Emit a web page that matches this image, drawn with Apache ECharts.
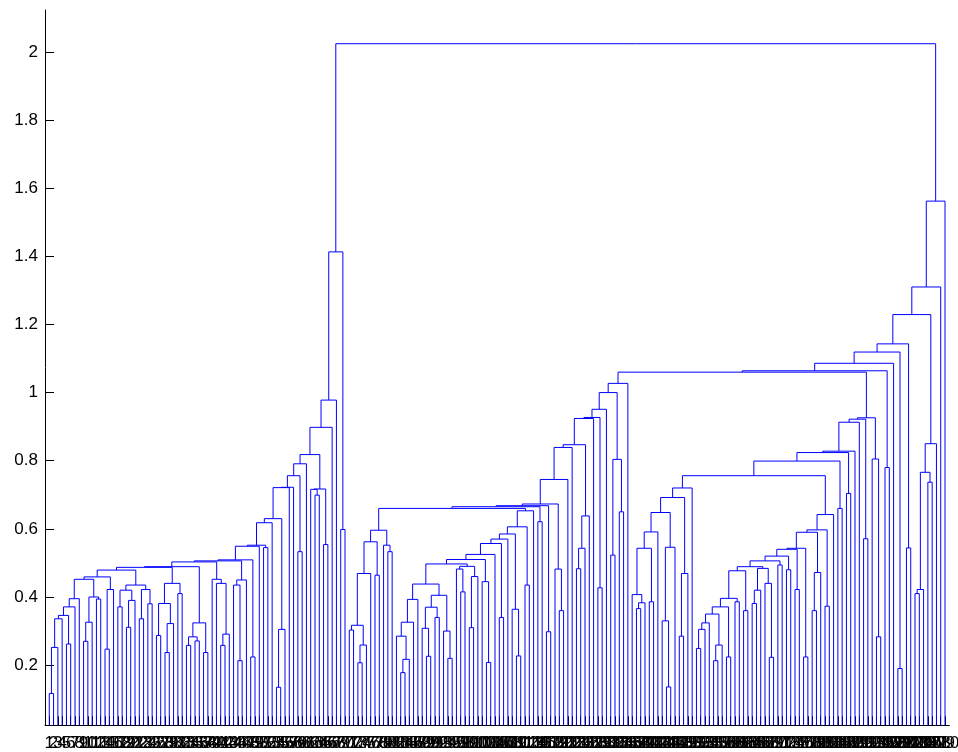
<!DOCTYPE html>
<html><head><meta charset="utf-8">
<script src="https://cdn.jsdelivr.net/npm/echarts@6/dist/echarts.min.js"></script>
<style>html,body{margin:0;padding:0;background:#fff}#c{width:958px;height:752px}</style>
</head><body><div id="c"></div>
<script>
// ---- axis data ----
const yMin = 0.0234, yMax = 2.123;
const yTicks = [0.2, 0.4, 0.6, 0.8, 1, 1.2, 1.4, 1.6, 1.8, 2];

// ---- tree data: [height, left, right], 0 = leaf ----
// left cluster (leaves 1-70)
const a1 = [0.336, [0.252, [0.117, 0, 0], 0], 0];
const a2 = [0.346, a1, [0.262, 0, 0]];
const a3 = [0.371, a2, 0];
const f8 = [0.395, a3, 0];
const n9 = [0.400, [0.326, [0.270, 0, 0], 0], [0.394, 0, 0]];
const g13 = [0.452, f8, n9];
const n14 = [0.422, [0.247, 0, 0], 0];
const h16 = [0.459, g13, n14];
const b17 = [0.435, [0.420, [0.371, 0, 0], [0.390, [0.311, 0, 0], 0]], [0.422, [0.336, 0, 0], [0.380, 0, 0]]];
const i25 = [0.479, h16, b17];
const c26 = [0.440, [0.381, [0.287, 0, 0], [0.322, [0.237, 0, 0], 0]], [0.410, 0, 0]];
const j32 = [0.487, i25, c26];
const k38 = [0.489, j32, [0.324, [0.283, [0.258, 0, 0], [0.271, 0, 0]], [0.237, 0, 0]]];
const x43 = [0.452, 0, [0.440, 0, [0.291, [0.258, 0, 0], 0]]];
const s1 = [0.503, k38, x43];
const y47 = [0.450, [0.435, 0, [0.213, 0, 0]], 0];
const s2 = [0.506, s1, y47];
const v49 = [0.509, s2, [0.224, 0, 0]];
const w52 = [0.552, [0.549, v49, 0], [0.545, 0, 0]];
const y53 = [0.618, w52, 0];
const y56 = [0.630, y53, [0.305, [0.135, 0, 0], 0]];
const n57 = [0.721, y56, 0];
const n58 = [0.722, n57, 0];
const p60 = [0.756, n58, [0.533, 0, 0]];
const p61 = [0.791, p60, 0];
const q66 = [0.717, [0.716, 0, [0.699, 0, 0]], [0.554, 0, 0]];
const r66 = [0.818, p61, q66];
const s67 = [0.898, r66, 0];
const t68 = [0.978, s67, 0];
const clusterL = [1.413, t68, [0.598, 0, 0]];

// middle-left cluster (leaves 71-136)
const q2 = [0.596, [0.562, [0.469, [0.317, [0.303, 0, 0], [0.259, [0.207, 0, 0], 0]], 0], [0.464, 0, 0]], [0.552, 0, [0.533, 0, 0]]];
const m1 = [0.326, [0.285, 0, [0.217, [0.178, 0, 0], 0]], 0];
const m1b = [0.393, m1, 0];
const m2 = [0.370, [0.308, 0, [0.226, 0, 0]], [0.340, 0, 0]];
const m2b = [0.405, m2, [0.300, 0, [0.220, 0, 0]]];
const m3 = [0.438, m1b, m2b];
const m4 = [0.482, 0, [0.415, 0, 0]];
const m5 = [0.460, [0.310, 0, 0], 0];
const m6 = [0.490, m4, m5];
const m7 = [0.497, m3, m6];
const xa = [0.510, m7, [0.445, 0, [0.208, 0, 0]]];
const m8 = [0.525, xa, 0];
const m9 = [0.557, m8, [0.340, 0, 0]];
const m10 = [0.570, m9, 0];
const m11 = [0.585, m10, [0.364, 0, [0.227, 0, 0]]];
const m12 = [0.606, m11, [0.435, 0, 0]];
const q3 = [0.653, m12, 0];
const n660 = [0.660, q2, q3];
const n665 = [0.665, n660, [0.621, 0, 0]];
const n668 = [0.668, n665, [0.298, 0, 0]];
const n673 = [0.673, n668, [0.482, 0, [0.360, 0, 0]]];
const n745 = [0.745, n673, 0];
const n839 = [0.839, n745, 0];
const x638 = [0.638, [0.543, [0.483, 0, 0], 0], 0];
const n847 = [0.847, n839, x638];
const n924 = [0.924, n847, 0];
const n927 = [0.927, n924, [0.427, 0, 0]];
const n951 = [0.951, n927, 0];
const n804 = [0.804, [0.523, 0, 0], [0.650, 0, 0]];
const n1000 = [1.000, n951, n804];
const clusterML = [1.027, n1000, 0];

// middle-right cluster (leaves 137-195)
const g1 = [0.407, 0, [0.383, [0.366, 0, 0], 0]];
const g2 = [0.543, g1, [0.386, 0, 0]];
const g3 = [0.591, g2, 0];
const g4 = [0.546, [0.330, 0, [0.136, 0, 0]], 0];
const g5 = [0.648, g3, g4];
const g6 = [0.692, g5, [0.469, [0.285, 0, 0], 0]];
const g7 = [0.720, g6, 0];
const ha = [0.324, [0.305, [0.249, 0, 0], 0], 0];
const hb = [0.350, ha, [0.259, [0.213, 0, 0], 0]];
const hc = [0.371, hb, [0.224, 0, 0]];
const hd = [0.396, hc, [0.386, 0, 0]];
const he = [0.477, hd, [0.360, 0, 0]];
const hx = [0.484, [0.420, [0.381, 0, 0], 0], [0.440, 0, [0.223, 0, 0]]];
const hf = [0.489, he, hx];
const hg = [0.506, hf, [0.494, 0, 0]];
const hh = [0.520, hg, [0.480, 0, 0]];
const hi = [0.540, hh, [0.422, 0, 0]];
const hj = [0.543, hi, [0.224, 0, 0]];
const hk = [0.590, hj, [0.472, [0.360, 0, 0], 0]];
const hl = [0.597, hk, [0.373, 0, 0]];
const hm = [0.642, hl, 0];
const n756 = [0.756, g7, hm];
const n799 = [0.799, n756, [0.660, 0, 0]];
const n824 = [0.824, n799, [0.704, 0, 0]];
const n828 = [0.828, n824, 0];
const n913 = [0.913, n828, 0];
const n922 = [0.922, n913, [0.571, 0, 0]];
const clusterMR = [0.926, n922, [0.805, 0, [0.283, 0, 0]]];

// right part (leaves 196-210)
const n1060 = [1.060, clusterML, clusterMR];
const n1064 = [1.064, n1060, [0.780, 0, 0]];
const n1086 = [1.086, n1064, 0];
const n1119 = [1.119, n1086, [0.190, 0, 0]];
const n1143 = [1.143, n1119, [0.544, 0, 0]];
const rr = [0.850, [0.766, [0.422, [0.410, 0, 0], 0], [0.737, 0, 0]], 0];
const n1229 = [1.229, n1143, rr];
const n1310 = [1.310, n1229, 0];
const clusterR = [1.562, n1310, 0];
const root = [2.024, clusterL, clusterR];

// ---- layout (data space: leaf order index, merge height) ----
let leafCount = 0;
const segs = [];
function place(node) {
  if (node === 0) { leafCount++; return [leafCount, yMin]; }
  const pa = place(node[1]), pb = place(node[2]);
  const h = node[0];
  segs.push({ coords: [[pa[0], pa[1]], [pa[0], h], [pb[0], h], [pb[0], pb[1]]] });
  return [(pa[0] + pb[0]) / 2, h];
}
place(root);
const leafLabels = Array.from({ length: leafCount }, (_, i) => String(i + 1));
const cats = [''].concat(leafLabels, ['']);

const chart = echarts.init(document.getElementById('c'), null, { renderer: 'canvas' });
const font = 'Liberation Sans, Arial, Helvetica, sans-serif';
chart.setOption({
  animation: false,
  backgroundColor: '#ffffff',
  grid: { left: 45, right: 8.7, top: 10, bottom: 26.7, containLabel: false, outerBoundsMode: 'none' },
  xAxis: [
    { type: 'value', min: 0, max: leafCount + 1, show: false },
    {
      type: 'category', data: cats, boundaryGap: false, position: 'bottom',
      axisLine: { show: true, lineStyle: { color: '#000', width: 1 } },
      axisTick: { show: true, inside: true, length: 9, lineStyle: { color: '#000' },
        interval: (i) => i > 0 && i < leafCount + 1 },
      axisLabel: { interval: 0, hideOverlap: false, fontSize: 17, color: '#000', fontFamily: font, margin: 10 },
      splitLine: { show: false }
    }
  ],
  yAxis: {
    type: 'value', min: yMin, max: yMax,
    axisLine: { show: true, lineStyle: { color: '#000', width: 1 } },
    axisTick: { show: true, inside: true, length: 9, customValues: yTicks, lineStyle: { color: '#000' } },
    axisLabel: { customValues: yTicks, fontSize: 17, color: '#000', fontFamily: font, margin: 7,
      formatter: (v) => String(+(+v).toFixed(1)) },
    splitLine: { show: false }
  },
  series: [{
    type: 'lines', coordinateSystem: 'cartesian2d', xAxisIndex: 0, yAxisIndex: 0,
    polyline: true, silent: true,
    lineStyle: { color: '#0000ff', width: 1, opacity: 1 },
    data: segs
  }]
});
</script>
</body></html>
